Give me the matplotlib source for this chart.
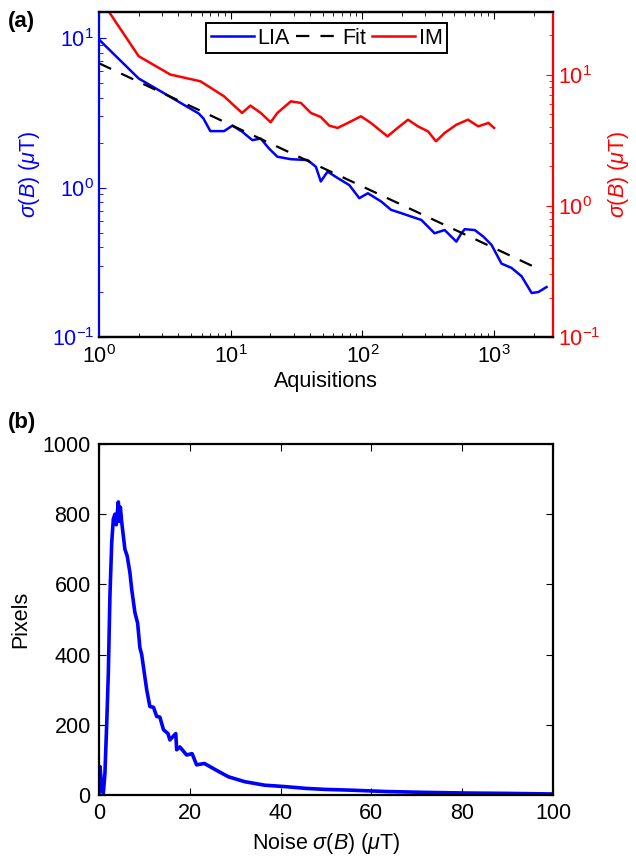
import numpy as np
import matplotlib
matplotlib.use("Agg")
import matplotlib.pyplot as plt

plt.rcParams['font.family'] = ['Liberation Sans', 'DejaVu Sans']
plt.rcParams['mathtext.fontset'] = 'custom'
plt.rcParams['mathtext.rm'] = 'Liberation Sans'
plt.rcParams['mathtext.it'] = 'Liberation Sans:italic'
plt.rcParams['mathtext.bf'] = 'Liberation Sans:bold'

# --- (a) noise vs number of acquisitions ---
lia_x = [1, 2.0, 3.3, 5.7, 6.2, 7.0, 8.9, 10.3, 12.2, 14.6, 16.9, 19.5, 22.6, 28.6,
         38.3, 44.3, 48.3, 54.4, 64.8, 79.5, 94.7, 110, 139, 165, 197, 235, 280,
         353, 421, 517, 564, 598, 713, 826, 955, 1138, 1357, 1617, 1928, 2168, 2500]
lia_y = [9.8, 5.38, 4.16, 3.14, 2.91, 2.39, 2.39, 2.6, 2.37, 2.08, 2.13, 1.83, 1.61, 1.55,
         1.53, 1.38, 1.10, 1.28, 1.16, 1.04, 0.85, 0.917, 0.807, 0.71, 0.675, 0.64, 0.608,
         0.495, 0.52, 0.435, 0.495, 0.527, 0.52, 0.471, 0.414, 0.31, 0.29, 0.255, 0.197, 0.20, 0.216]

fit_x = [1, 2100]
fit_y = [6.8, 0.29]

im_x = [1, 2.0, 3.48, 5.89, 8.9, 10.6, 12.2, 14.1, 16.9, 20.1, 22.6, 28.6, 34.1, 40.6,
        48.3, 56, 64.8, 77.5, 97.5, 116, 155, 185, 222, 264, 315, 362, 421, 517, 633,
        757, 905, 1000]
im_y = [39, 13.8, 10.0, 8.89, 6.83, 5.8, 5.1, 5.8, 5.1, 4.33, 5.1, 6.25, 6.08, 5.1,
        4.75, 4.08, 3.92, 4.28, 4.81, 4.28, 3.38, 3.92, 4.53, 4.03, 3.69, 3.1, 3.59, 4.15,
        4.53, 4.03, 4.28, 3.92]

# --- (b) histogram of pixel noise ---
noise_x = [0, 0.22, 0.6, 0.95, 1.3, 1.7, 2.05, 2.4, 2.8, 3.15, 3.5, 3.8, 4.25, 4.5, 4.7,
           5.0, 5.7, 6.2, 6.8, 7.2, 7.9, 8.5, 9.0, 9.4, 10.5, 11.2, 12.0, 12.7, 13.4,
           14.2, 15.2, 15.6, 16.9, 17.1, 17.8, 19.3, 20.5, 21.5, 23.2, 25.8, 28.5, 32.1,
           36.5, 41, 45.5, 49.9, 55.3, 63.3, 72.2, 81.1, 90, 100]
noise_counts = [0, 81, 20, 5, 62, 205, 348, 567, 720, 786, 800, 770, 835, 780, 820,
                777, 700, 681, 634, 586, 520, 490, 420, 400, 300, 252, 250, 224, 222,
                186, 175, 157, 175, 129, 137, 114, 118, 86, 90, 71, 52, 38,
                28, 24, 19, 16, 14, 10, 7.5, 5.7, 4.7, 3]

fig = plt.figure(figsize=(6.36, 8.67), dpi=100)
fs = 15.5

ax1 = fig.add_axes([0.1557, 0.6113, 0.7138, 0.3749])
ax2 = ax1.twinx()

l1, = ax1.plot(lia_x, lia_y, color='blue', lw=1.8, label='LIA')
l2, = ax1.plot(fit_x, fit_y, color='black', lw=1.6, ls=(0, (6, 5)), label='Fit')
l3, = ax2.plot(im_x, im_y, color='red', lw=1.8, label='IM')

ax1.set_xscale('log')
ax1.set_yscale('log')
ax2.set_yscale('log')
ax1.set_xlim(1, 2800)
ax1.set_ylim(0.1, 15)
ax2.set_ylim(0.1, 30)

for a in (ax1, ax2):
    for s in a.spines.values():
        s.set_linewidth(1.6)
ax1.spines['left'].set_color('blue')
ax2.spines['left'].set_visible(False)
ax2.spines['right'].set_color('red')
ax1.spines['right'].set_visible(False)

ax1.tick_params(axis='x', which='both', top=True, direction='in', labelsize=fs, pad=6)
ax1.tick_params(axis='x', which='major', length=5)
ax1.tick_params(axis='x', which='minor', length=3)
ax1.tick_params(axis='y', which='both', direction='in', colors='blue', labelsize=fs)
ax1.tick_params(axis='y', which='major', length=5)
ax1.tick_params(axis='y', which='minor', length=3)
ax2.tick_params(axis='y', which='both', direction='in', colors='red', labelsize=fs)
ax2.tick_params(axis='y', which='major', length=5)
ax2.tick_params(axis='y', which='minor', length=3)

ax1.set_xlabel('Aquisitions', fontsize=fs, labelpad=2)
ax1.set_ylabel(r'$\sigma(B)$ ($\mu$T)', fontsize=fs, color='blue', labelpad=7)
ax2.set_ylabel(r'$\sigma(B)$ ($\mu$T)', fontsize=fs, color='red', labelpad=4)

leg = ax2.legend(handles=[l1, l2, l3], loc='upper center', bbox_to_anchor=(0.501, 0.965),
                 ncol=3, fontsize=fs, handlelength=2.0, handletextpad=0.15,
                 columnspacing=0.3, borderpad=0.2, borderaxespad=0, fancybox=False,
                 edgecolor='black', framealpha=1)
leg.get_frame().set_linewidth(1.4)

# --- (b) ---
ax3 = fig.add_axes([0.1557, 0.0830, 0.7138, 0.4049])
ax3.plot(noise_x, noise_counts, color='blue', lw=2.6)
ax3.set_xlim(0, 100)
ax3.set_ylim(0, 1000)
ax3.set_xticks(np.arange(0, 101, 20))
ax3.set_yticks(np.arange(0, 1001, 200))
ax3.tick_params(which='both', direction='in', top=True, right=True, length=5,
                labelsize=fs, pad=6)
for s in ax3.spines.values():
    s.set_linewidth(1.6)
ax3.set_xlabel(r'Noise $\sigma(B)$ ($\mu$T)', fontsize=fs, labelpad=5)
ax3.set_ylabel('Pixels', fontsize=fs, labelpad=8)

fig.text(0.012, 0.975, '(a)', fontsize=16, fontweight='bold', va='center')
fig.text(0.012, 0.513, '(b)', fontsize=16, fontweight='bold', va='center')

fig.savefig('out.png', dpi=100)
